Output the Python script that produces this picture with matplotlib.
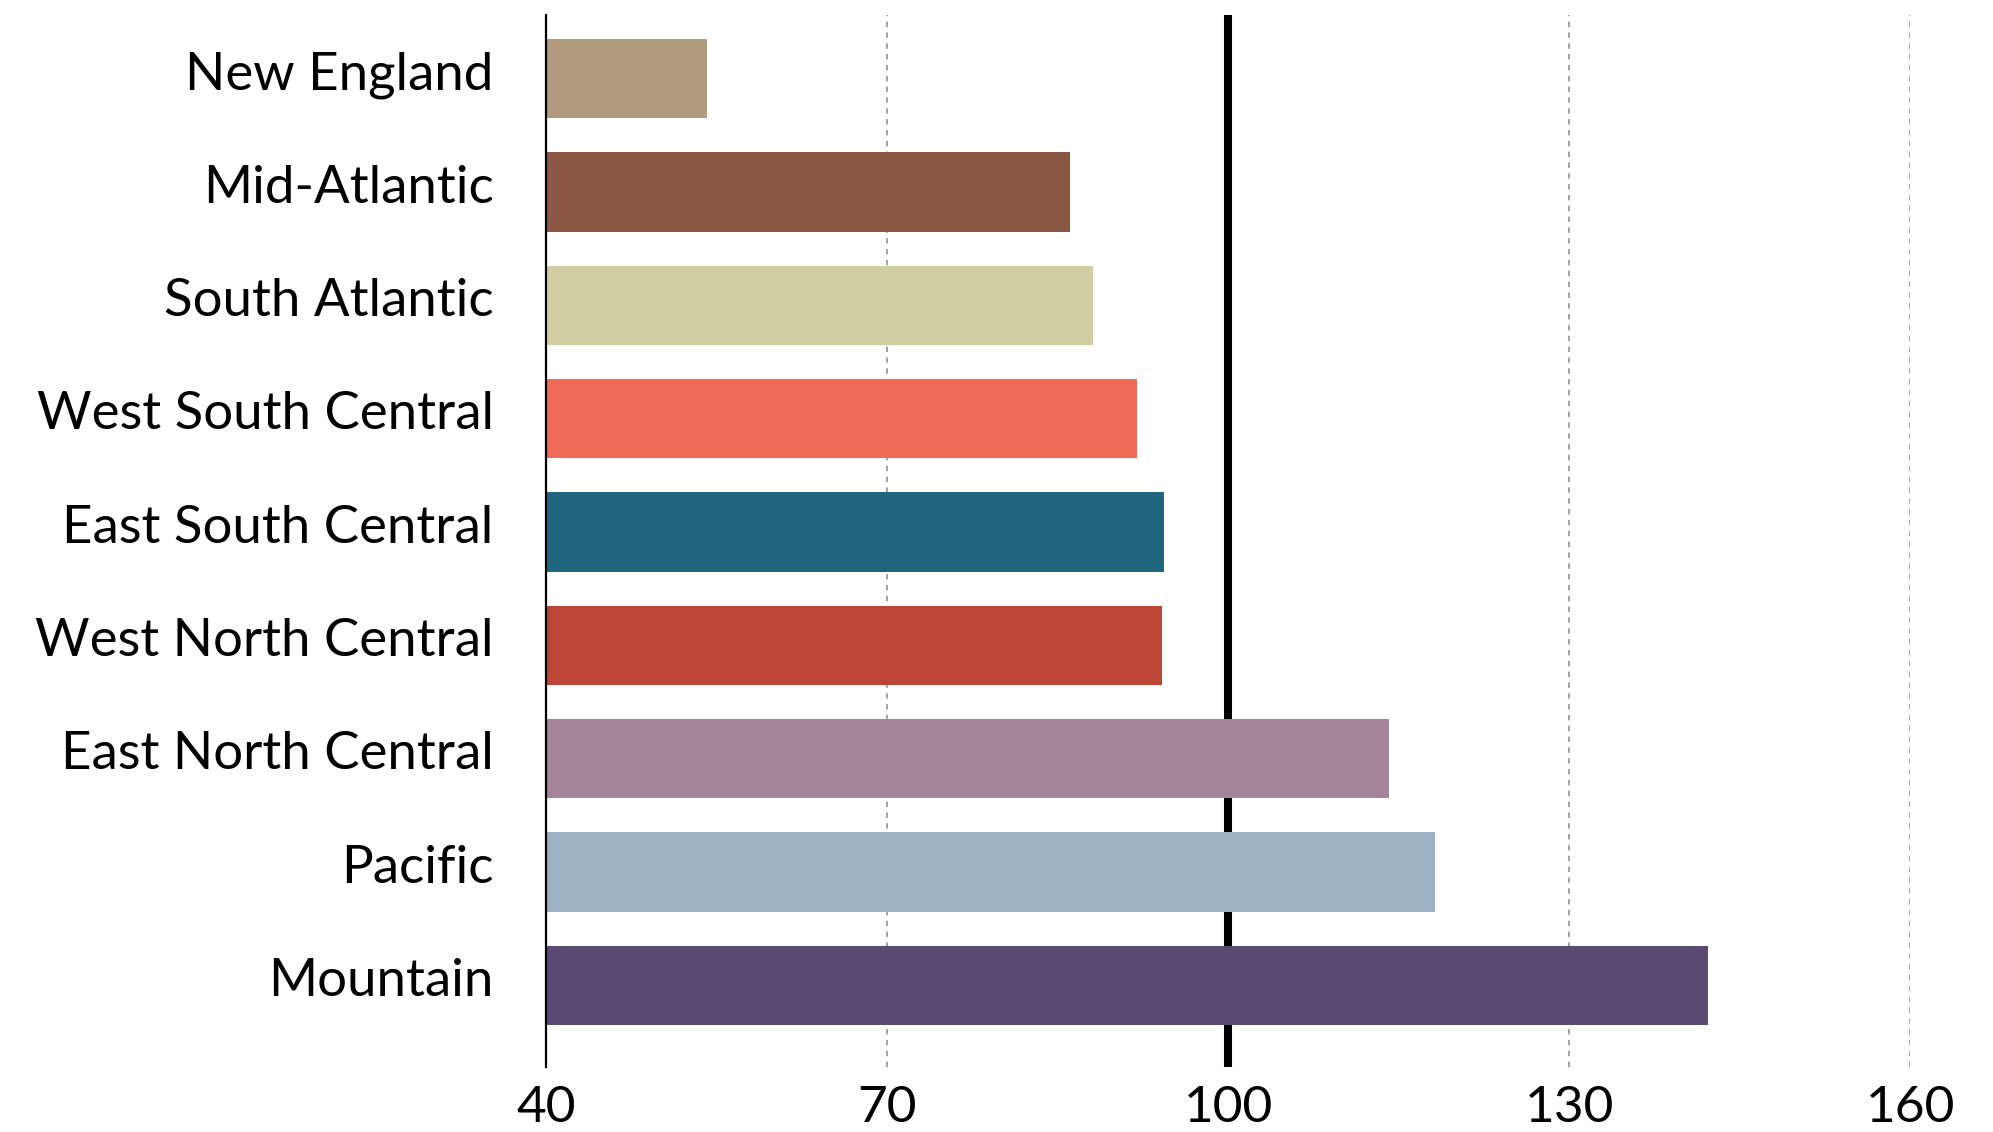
import matplotlib
matplotlib.use("Agg")
import matplotlib.pyplot as plt
from matplotlib.transforms import ScaledTranslation

regions = ["New England", "Mid-Atlantic", "South Atlantic", "West South Central",
           "East South Central", "West North Central", "East North Central",
           "Pacific", "Mountain"]
index_values = [54.1, 86.1, 88.1, 92.0, 94.3, 94.2, 114.1, 118.2, 142.2]
bar_colors = ["#b29a7e", "#8a5844", "#d3cda4", "#f06a58", "#1f667e",
              "#bc4636", "#a38498", "#9cb2c3", "#5b4a72"]
x_ticks = [40, 70, 100, 130, 160]

plt.rcParams["font.family"] = ["Lato", "DejaVu Sans"]

fig = plt.figure(figsize=(19.93, 11.32), dpi=100)
ax = fig.add_axes([0.2742, 0.0574, 0.6842, 0.9293])

ypos = list(range(len(regions)))

# reference line at 100 sits behind the bars
ax.axvline(100, color="black", linewidth=5.8, zorder=1)
for t in x_ticks:
    if t not in (40, 100):
        ax.axvline(t, color="#9a9a9a", linewidth=1.3, linestyle=(0, (3, 3)), zorder=0)

ax.barh(ypos, index_values, height=0.70, color=bar_colors, zorder=2)

ax.set_xlim(40, 160)
ax.set_ylim(8.72, -0.56)
ax.set_xticks(x_ticks)
ax.set_xticklabels([str(t) for t in x_ticks])
ax.set_yticks(ypos)
ax.set_yticklabels(regions)
ax.tick_params(axis="x", length=0, labelsize=37, pad=13)
ax.tick_params(axis="y", length=0, labelsize=38, pad=38)

# nudge the region names up a little
lift = ScaledTranslation(0, 6 / 72, fig.dpi_scale_trans)
for lbl in ax.get_yticklabels():
    lbl.set_transform(lbl.get_transform() + lift)

for side in ("top", "right", "bottom"):
    ax.spines[side].set_visible(False)
ax.spines["left"].set_linewidth(1.6)
ax.spines["left"].set_zorder(3)

fig.savefig("out.png", dpi=100)
